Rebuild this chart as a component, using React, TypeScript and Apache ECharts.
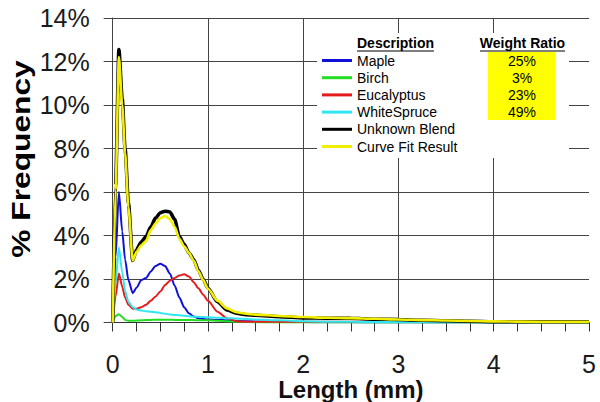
import React, { useEffect, useRef } from "react";
import * as echarts from "echarts";

const lengths = [0, 0.03, 0.065, 0.1, 0.13, 0.165, 0.21, 0.25, 0.3, 0.35, 0.4, 0.45, 0.5, 0.55, 0.6, 0.65, 0.7, 0.75, 0.8, 0.85, 0.9, 0.95, 1.0, 1.1, 1.2, 1.3, 1.4, 1.5, 1.75, 2.0, 2.25, 2.5, 2.75, 3.0, 3.25, 3.5, 3.75, 4.0, 4.5, 5.0];

const maple = [0, 3.0, 6.0, 4.2, 2.9, 1.95, 1.35, 1.6, 1.95, 2.05, 2.35, 2.6, 2.7, 2.6, 2.25, 1.7, 1.15, 0.7, 0.42, 0.28, 0.2, 0.16, 0.14, 0.12, 0.1, 0.08, 0.06, 0.05, 0.03, 0.02, 0.01, 0.01, 0, 0, 0, 0, 0, 0, 0, 0];
const birch = [0, 0.3, 0.38, 0.25, 0.12, 0.08, 0.08, 0.09, 0.1, 0.11, 0.12, 0.13, 0.13, 0.13, 0.13, 0.12, 0.12, 0.12, 0.11, 0.11, 0.1, 0.1, 0.1, 0.08, 0.06, 0.04, 0.02, 0.01, 0, 0, 0, 0, 0, 0, 0, 0, 0, 0, 0, 0];
const eucalyptus = [0, 1.2, 2.25, 1.65, 1.15, 0.82, 0.63, 0.63, 0.7, 0.82, 1.0, 1.2, 1.42, 1.72, 1.92, 2.05, 2.16, 2.22, 2.12, 1.85, 1.57, 1.28, 1.0, 0.5, 0.2, 0.06, 0.03, 0.03, 0.03, 0.03, 0.03, 0.03, 0.03, 0.03, 0.03, 0.02, 0.02, 0.02, 0.01, 0.01];
const whiteSpruce = [0, 1.8, 3.45, 2.3, 1.45, 0.95, 0.7, 0.6, 0.55, 0.52, 0.5, 0.47, 0.44, 0.4, 0.37, 0.35, 0.33, 0.31, 0.29, 0.27, 0.26, 0.25, 0.24, 0.22, 0.2, 0.18, 0.16, 0.14, 0.1, 0.06, 0.04, 0.03, 0.02, 0.02, 0.01, 0.01, 0.01, 0, 0, 0];
const unknownBlend = [0, 6.3, 12.55, 10.3, 8.0, 5.5, 2.85, 3.35, 3.7, 3.95, 4.4, 4.8, 5.05, 5.12, 5.08, 4.75, 3.95, 3.6, 3.2, 2.9, 2.4, 1.98, 1.58, 0.95, 0.57, 0.42, 0.36, 0.33, 0.27, 0.21, 0.2, 0.19, 0.15, 0.14, 0.1, 0.08, 0.06, 0.04, 0.03, 0.03];
const curveFit = [0, 6.1, 12.2, 10.0, 7.8, 5.3, 2.85, 3.25, 3.55, 3.75, 4.25, 4.55, 4.8, 4.9, 4.75, 4.4, 3.85, 3.5, 3.2, 2.85, 2.35, 1.95, 1.55, 1.0, 0.65, 0.47, 0.4, 0.36, 0.3, 0.25, 0.22, 0.2, 0.17, 0.14, 0.11, 0.09, 0.07, 0.05, 0.03, 0.03];

const speciesNames = ["Maple", "Birch", "Eucalyptus", "WhiteSpruce"];
const weightRatios = [25, 3, 23, 49];
const legendNames = ["Maple", "Birch", "Eucalyptus", "WhiteSpruce", "Unknown Blend", "Curve Fit Result"];

const FONT = "'Liberation Sans', Arial, Helvetica, sans-serif";

export default function App() {
  const ref = useRef<HTMLDivElement>(null);

  useEffect(() => {
    document.body.style.margin = "0";
    if (!ref.current) return;
    const chart = echarts.init(ref.current, undefined, { renderer: "svg" });

    const pts = (arr: number[]) => lengths.map((x, i) => [x, arr[i]]);

    const mk = (name: string, arr: number[], color: string, width: number, z = 2) => ({
      name,
      type: "line",
      data: pts(arr),
      showSymbol: false,
      symbol: "none",
      smooth: 0.25,
      smoothMonotone: "x",
      z,
      lineStyle: { color, width },
      itemStyle: { color },
    });

    const rowY = (i: number) => 60.5 + i * 17.2;

    const graphics: any[] = [
      { type: "rect", z: 3, shape: { x: 317, y: 33, width: 252, height: 125 }, style: { fill: "#ffffff" } },
      { type: "rect", z: 4, shape: { x: 488, y: 52, width: 67, height: 68 }, style: { fill: "#ffff00" } },
      {
        type: "text", z: 6, x: 357, y: 43,
        style: { text: "Description", font: `bold 14px ${FONT}`, fill: "#000", align: "left", verticalAlign: "middle" },
      },
      { type: "line", z: 6, shape: { x1: 357, y1: 51, x2: 434, y2: 51 }, style: { stroke: "#000", lineWidth: 1.2 } },
      {
        type: "text", z: 6, x: 522.5, y: 43,
        style: { text: "Weight Ratio", font: `bold 14px ${FONT}`, fill: "#000", align: "center", verticalAlign: "middle" },
      },
      { type: "line", z: 6, shape: { x1: 480, y1: 51, x2: 565, y2: 51 }, style: { stroke: "#000", lineWidth: 1.2 } },
      ...weightRatios.map((w, i) => ({
        type: "text", z: 6, x: 522, y: rowY(i),
        style: { text: `${w}%`, font: `14px ${FONT}`, fill: "#000", align: "center", verticalAlign: "middle" },
      })),
      {
        type: "text", z: 6, x: 21, y: 159, rotation: Math.PI / 2, scaleX: 1.22,
        style: { text: "% Frequency", font: `bold 26px ${FONT}`, fill: "#000", align: "center", verticalAlign: "middle" },
      },
    ];

    chart.setOption({
      animation: false,
      backgroundColor: "#ffffff",
      textStyle: { fontFamily: FONT },
      grid: { left: 112.7, right: 11, top: 18, bottom: 79.5, containLabel: false, outerBoundsMode: "none" },
      legend: {
        data: legendNames,
        orient: "vertical",
        left: 317,
        top: 48.5,
        icon: "rect",
        itemWidth: 30,
        itemHeight: 3,
        itemGap: 3.2,
        z: 5,
        selectedMode: false,
        textStyle: { fontSize: 14, color: "#000", fontFamily: FONT, lineHeight: 14 },
      },
      xAxis: {
        type: "value",
        min: 0,
        max: 5,
        interval: 1,
        name: "Length (mm)",
        nameLocation: "middle",
        nameGap: 57,
        nameMoveOverlap: false,
        nameTextStyle: { fontSize: 24, lineHeight: 20, fontWeight: "bold", color: "#111", fontFamily: FONT, verticalAlign: "top" },
        axisLine: { show: true, lineStyle: { color: "#333", width: 1.2 } },
        axisTick: { show: true, length: 9, lineStyle: { color: "#333" } },
        minorTick: { show: true, splitNumber: 4, length: 9, lineStyle: { color: "#333" } },
        axisLabel: { fontSize: 25, lineHeight: 21, color: "#1a1a1a", margin: 31, fontFamily: FONT },
        splitLine: { show: true, showMaxLine: false, showMinLine: false, lineStyle: { color: "#444", width: 1 } },
      },
      yAxis: {
        type: "value",
        min: 0,
        max: 14,
        interval: 2,
        axisLine: { show: true, lineStyle: { color: "#444", width: 1 } },
        axisTick: { show: true, length: 9, lineStyle: { color: "#444" } },
        axisLabel: { fontSize: 25, color: "#1a1a1a", margin: 23, formatter: "{value}%", fontFamily: FONT },
        splitLine: { show: true, lineStyle: { color: "#444", width: 1 } },
      },
      series: [
        mk(speciesNames[0], maple, "#1010d8", 2),
        mk(speciesNames[1], birch, "#22dd22", 2),
        mk(speciesNames[2], eucalyptus, "#e41c1c", 2),
        mk(speciesNames[3], whiteSpruce, "#30e6f0", 2),
        mk("Unknown Blend", unknownBlend, "#000000", 3.5),
        mk("Curve Fit Result", curveFit, "#f2ee00", 2.6),
      ],
      graphic: graphics,
    });

    return () => chart.dispose();
  }, []);

  return <div ref={ref} style={{ width: 600, height: 402 }} />;
}
